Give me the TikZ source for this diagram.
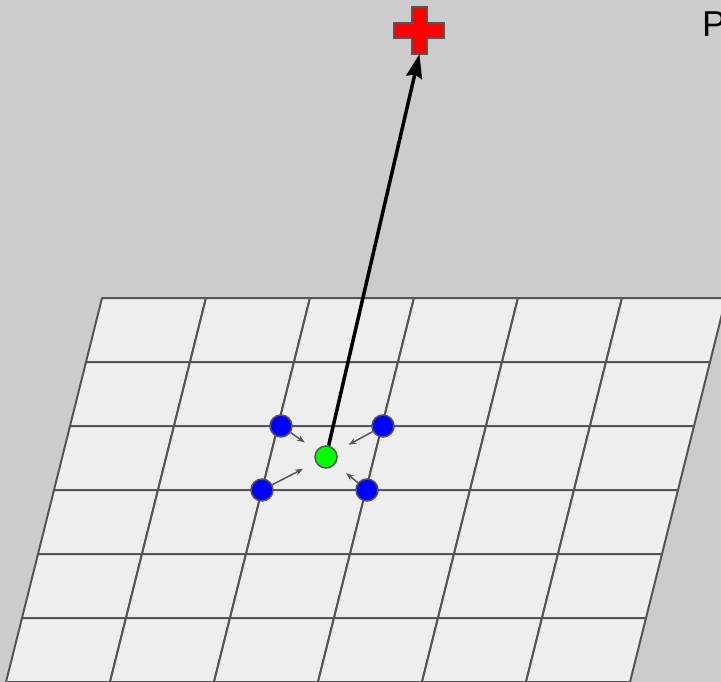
\documentclass[tikz,border=0pt]{standalone}
\usepackage{fontspec}
\setmainfont{Liberation Sans}
\usepackage{tikz}
\usetikzlibrary{arrows.meta, calc}
\definecolor{bggray}{HTML}{CCCCCC}
\definecolor{cellgray}{HTML}{EEEEEE}
\definecolor{edgegray}{HTML}{555555}

\begin{document}
\begin{tikzpicture}[
    x=1pt, y=-1pt,
    cell/.style={fill=cellgray, draw=edgegray, line width=2pt, line join=round},
    dot/.style={circle, draw=edgegray, line width=1.5pt, minimum size=22pt, inner sep=0pt},
    pull/.style={-{Stealth[length=8pt, width=6pt]}, line width=1.5pt, edgegray, shorten >=14pt},
    arr/.style={-{Stealth[length=24pt, width=16pt, inset=3pt]}, line width=3.5pt, black},
]
    \useasboundingbox (0,0) rectangle (721,682);
    \fill[bggray] (0,0) rectangle (721,682);
    \clip (0,0) rectangle (721,682);

    % grid cells, each row shifted left by 16
    \foreach \j in {0,...,5} {
        \foreach \i in {0,...,5} {
            \draw[cell] ({102-16*\j+104*\i},{298+64*\j}) -- ++(104,0)
                -- ++(-16,64) -- ++(-104,0) -- cycle;
        }
    }

    % sample points
    \node[dot, fill=blue] (ul) at (281,426) {};
    \node[dot, fill=blue] (ur) at (383,426) {};
    \node[dot, fill=blue] (ll) at (262,490) {};
    \node[dot, fill=blue] (lr) at (367,490) {};
    \node[dot, fill=green] (mid) at (326,457) {};

    \draw[pull] (ul) -- (mid);
    \draw[pull] (ur) -- (mid);
    \draw[pull] (ll) -- (mid);
    \draw[pull] (lr) -- (mid);

    % target cross
    \draw[fill=red, draw=edgegray, line width=2pt]
        (412,7) -- (427,7) -- (427,23) -- (444,23) -- (444,38) -- (427,38)
        -- (427,54) -- (412,54) -- (412,38) -- (394,38) -- (394,23) -- (412,23) -- cycle;
    \coordinate (target) at (419.5,54);

    \draw[arr] (mid) -- (target);

    \node[anchor=base west, font=\fontsize{36}{40}\selectfont, inner sep=0pt] (lbl) at (702,37) {P};
\end{tikzpicture}
\end{document}
